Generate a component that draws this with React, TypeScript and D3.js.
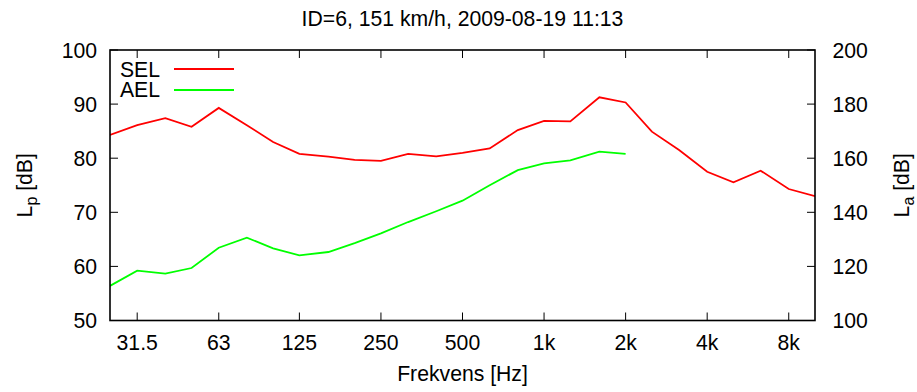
import React from "react";
import * as d3 from "d3";

// Third-octave band centre frequencies [Hz]
const bands = [25, 31.5, 40, 50, 63, 80, 100, 125, 160, 200, 250, 315, 400, 500, 630, 800, 1000, 1250, 1600, 2000, 2500, 3150, 4000, 5000, 6300, 8000, 10000];

// Sound exposure level per band [dB]
const sel = [84.3, 86.1, 87.4, 85.8, 89.3, 86.1, 83.0, 80.8, 80.3, 79.7, 79.5, 80.8, 80.35, 81.0, 81.8, 85.2, 86.9, 86.8, 91.25, 90.3, 84.9, 81.5, 77.5, 75.55, 77.7, 74.3, 73.0];

// A-weighted exposure level per band [dB], up to 2 kHz
const ael = [56.4, 59.2, 58.65, 59.7, 63.45, 65.3, 63.35, 62.05, 62.66, 64.3, 66.1, 68.2, 70.2, 72.15, 75.0, 77.8, 79.05, 79.6, 81.2, 80.8];

const xTickValues = [31.5, 63, 125, 250, 500, 1000, 2000, 4000, 8000];
const xTickLabels = ["31.5", "63", "125", "250", "500", "1k", "2k", "4k", "8k"];
const yLeftTicks = [50, 60, 70, 80, 90, 100];
const yRightTicks = [100, 120, 140, 160, 180, 200];

const title = "ID=6, 151 km/h, 2009-08-19 11:13";

const W = 917;
const H = 392;
const L = 110;
const R = 815;
const T = 50;
const B = 320.5;
const FONT = "'Liberation Sans', Arial, sans-serif";
const FS = 21.2;
const SUB = 16;

export default function App() {
  const x = d3.scaleLog().domain([25, 10000]).range([L, R]);
  const yL = d3.scaleLinear().domain([50, 100]).range([B, T]);
  const yR = d3.scaleLinear().domain([100, 200]).range([B, T]);

  const line = d3
    .line<number>()
    .x((_, i) => x(bands[i]))
    .y((d) => yL(d));

  const tickLen = 8;

  return (
    <div style={{ position: "fixed", left: 0, top: 0 }}>
      <svg width={W} height={H} style={{ display: "block", background: "#fff" }} fontFamily={FONT}>
        <defs>
          <clipPath id="plotClip">
            <rect x={L} y={T} width={R - L} height={B - T} />
          </clipPath>
        </defs>

        {/* title */}
        <text x={(L + R) / 2} y={26} textAnchor="middle" fontSize={FS} fill="#000">
          {title}
        </text>

        {/* x ticks, bottom and top, pointing inward */}
        {xTickValues.map((v, i) => (
          <g key={"xt" + i}>
            <line x1={x(v)} x2={x(v)} y1={B} y2={B - tickLen} stroke="#000" strokeWidth={1} />
            <line x1={x(v)} x2={x(v)} y1={T} y2={T + tickLen} stroke="#000" strokeWidth={1} />
            <text x={x(v)} y={349.5} textAnchor="middle" fontSize={FS} fill="#000">
              {xTickLabels[i]}
            </text>
          </g>
        ))}

        {/* left y ticks */}
        {yLeftTicks.map((v) => (
          <g key={"yl" + v}>
            <line x1={L} x2={L + tickLen} y1={yL(v)} y2={yL(v)} stroke="#000" strokeWidth={1} />
            <text x={97} y={yL(v) + 7.5} textAnchor="end" fontSize={FS} fill="#000">
              {v}
            </text>
          </g>
        ))}

        {/* right y ticks */}
        {yRightTicks.map((v) => (
          <g key={"yr" + v}>
            <line x1={R} x2={R - tickLen} y1={yR(v)} y2={yR(v)} stroke="#000" strokeWidth={1} />
            <text x={832.5} y={yR(v) + 7.5} textAnchor="start" fontSize={FS} fill="#000">
              {v}
            </text>
          </g>
        ))}

        {/* data lines */}
        <g clipPath="url(#plotClip)">
          <path d={line(sel) || ""} fill="none" stroke="#ff0000" strokeWidth={1.8} strokeLinejoin="miter" />
          <path d={line(ael) || ""} fill="none" stroke="#00ff00" strokeWidth={1.8} strokeLinejoin="miter" />
        </g>

        {/* frame */}
        <rect x={L} y={T} width={R - L} height={B - T} fill="none" stroke="#000" strokeWidth={1.6} />

        {/* legend */}
        <text x={160} y={76.5} textAnchor="end" fontSize={FS} fill="#000">SEL</text>
        <line x1={174} x2={234} y1={69} y2={69} stroke="#ff0000" strokeWidth={1.8} />
        <text x={160} y={97} textAnchor="end" fontSize={FS} fill="#000">AEL</text>
        <line x1={174} x2={234} y1={90} y2={90} stroke="#00ff00" strokeWidth={1.8} />

        {/* axis titles */}
        <text x={(L + R) / 2} y={381} textAnchor="middle" fontSize={FS} fill="#000">
          Frekvens [Hz]
        </text>
        <text transform={`translate(32,${(T + B) / 2}) rotate(-90)`} textAnchor="middle" fontSize={FS} fill="#000">
          L<tspan fontSize={SUB} dy={5}>p</tspan>
          <tspan dy={-5}> [dB]</tspan>
        </text>
        <text transform={`translate(909,${(T + B) / 2}) rotate(-90)`} textAnchor="middle" fontSize={FS} fill="#000">
          L<tspan fontSize={SUB} dy={5}>a</tspan>
          <tspan dy={-5}> [dB]</tspan>
        </text>
      </svg>
    </div>
  );
}
